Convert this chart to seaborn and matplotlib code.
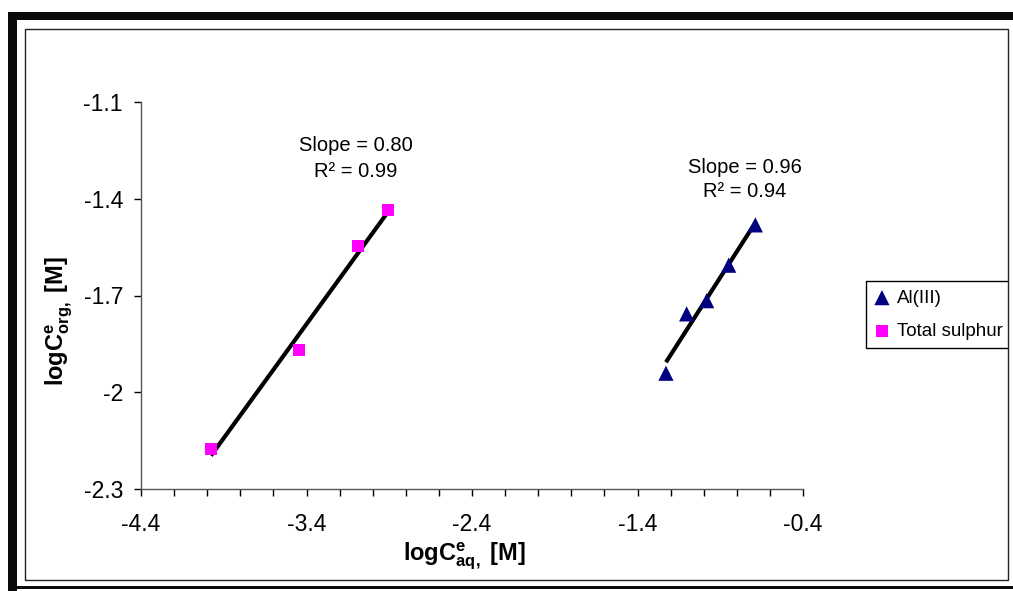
import numpy as np
import pandas as pd
import seaborn as sns
import matplotlib.pyplot as plt
from matplotlib.patches import Rectangle

# ---- data ----
al_x = [-1.228, -1.103, -0.982, -0.849, -0.688]
al_y = [-1.941, -1.757, -1.716, -1.606, -1.481]
s_x = [-3.977, -3.445, -3.089, -2.908]
s_y = [-2.176, -1.869, -1.547, -1.435]

series_names = ["Al(III)", "Total sulphur"]
x_ticks = [-4.4, -4.2, -4.0, -3.8, -3.6, -3.4, -3.2, -3.0, -2.8, -2.6, -2.4,
           -2.2, -2.0, -1.8, -1.6, -1.4, -1.2, -1.0, -0.8, -0.6, -0.4]
x_tick_labels = ["-4.4", "", "", "", "", "-3.4", "", "", "", "", "-2.4",
                 "", "", "", "", "-1.4", "", "", "", "", "-0.4"]
y_ticks = [-2.3, -2.0, -1.7, -1.4, -1.1]
y_tick_labels = ["-2.3", "-2", "-1.7", "-1.4", "-1.1"]
annot_s = ["Slope = 0.80", "R\u00b2 = 0.99"]
annot_al = ["Slope = 0.96", "R\u00b2 = 0.94"]

al_df = pd.DataFrame({"x": al_x, "y": al_y})
s_df = pd.DataFrame({"x": s_x, "y": s_y})

sns.set_theme(style="ticks")
plt.rcParams["font.family"] = ["Liberation Sans", "DejaVu Sans"]
plt.rcParams["mathtext.fontset"] = "custom"
plt.rcParams["mathtext.rm"] = "Liberation Sans"
plt.rcParams["mathtext.bf"] = "Liberation Sans:bold"
plt.rcParams["mathtext.it"] = "Liberation Sans:italic"
plt.rcParams["text.color"] = "black"
plt.rcParams["axes.labelcolor"] = "black"

W, H = 1013, 591
fig = plt.figure(figsize=(W / 100, H / 100), dpi=100)
fig.patch.set_facecolor("white")
ax = fig.add_axes([141 / W, 102 / H, 662 / W, 387 / H])
ax.set_facecolor("white")

# fit lines
sns.regplot(data=s_df, x="x", y="y", scatter=False, ci=None, truncate=True,
            color="black", line_kws={"lw": 3, "solid_capstyle": "butt"}, ax=ax)
sns.regplot(data=al_df, x="x", y="y", scatter=False, ci=None, truncate=True,
            color="black", line_kws={"lw": 3, "solid_capstyle": "butt"}, ax=ax)

# points
sns.scatterplot(data=al_df, x="x", y="y", marker="^", s=120, color="#000080",
                edgecolor="none", label=series_names[0], ax=ax, zorder=3)
sns.scatterplot(data=s_df, x="x", y="y", marker="s", s=70, color="#FF00FF",
                edgecolor="none", label=series_names[1], ax=ax, zorder=3)

ax.set_xlim(-4.4, -0.4)
ax.set_ylim(-2.3, -1.1)
ax.set_xticks(x_ticks)
ax.set_xticklabels(x_tick_labels)
ax.set_yticks(y_ticks)
ax.set_yticklabels(y_tick_labels)

for sp in ["top", "right"]:
    ax.spines[sp].set_visible(False)
for sp in ["left", "bottom"]:
    ax.spines[sp].set_color("#555555")
    ax.spines[sp].set_linewidth(1)

ax.tick_params(axis="both", direction="out", length=5, width=1, color="black",
               labelsize=16.5, labelcolor="black", bottom=True, left=True)
ax.tick_params(axis="x", pad=12)
ax.tick_params(axis="y", pad=8)

ax.set_xlabel(r"$\mathbf{logC^{e}_{aq,}\ [M]}$", fontsize=17)
ax.set_ylabel(r"$\mathbf{logC^{e}_{org,}\ [M]}$", fontsize=17)
ax.xaxis.set_label_coords(0.489, -0.135)
ax.yaxis.set_label_coords(-0.10, 0.434)

# annotations
fs_ann = 14.5
ax.text(-3.10, -1.236, annot_s[0], ha="center", va="center", fontsize=fs_ann, color="black")
ax.text(-3.10, -1.317, annot_s[1], ha="center", va="center", fontsize=fs_ann, color="black")
ax.text(-0.75, -1.302, annot_al[0], ha="center", va="center", fontsize=fs_ann, color="black")
ax.text(-0.75, -1.379, annot_al[1], ha="center", va="center", fontsize=fs_ann, color="black")

leg = ax.legend(loc="upper left", bbox_to_anchor=(866 / W, 1 - 281 / H),
                bbox_transform=fig.transFigure, frameon=True, fancybox=False,
                shadow=False, framealpha=1, edgecolor="black", borderaxespad=0,
                fontsize=13.5, handlelength=0.8, handletextpad=0.4,
                labelspacing=0.85, borderpad=0.45, markerscale=1.0)
leg.get_frame().set_linewidth(1)
for t in leg.get_texts():
    t.set_color("black")


def px_rect(x0, y0, x1, y1, **kw):
    return Rectangle((x0 / W, 1 - y1 / H), (x1 - x0) / W, (y1 - y0) / H,
                     transform=fig.transFigure, **kw)


# page frame decorations
fig.add_artist(px_rect(1009, 21, W, H, facecolor="white", edgecolor="none", zorder=5))
fig.add_artist(px_rect(25, 29, 1008, 580, facecolor="none", edgecolor="#222222",
                       lw=1, zorder=6))
fig.add_artist(px_rect(8, 12, W, 20, facecolor="#0a0a0a", edgecolor="none", zorder=7))
fig.add_artist(px_rect(8, 12, 17, H, facecolor="#0a0a0a", edgecolor="none", zorder=7))
fig.add_artist(px_rect(8, 586, W, 589, facecolor="#0a0a0a", edgecolor="none", zorder=7))

fig.savefig("out.png", dpi=100)
